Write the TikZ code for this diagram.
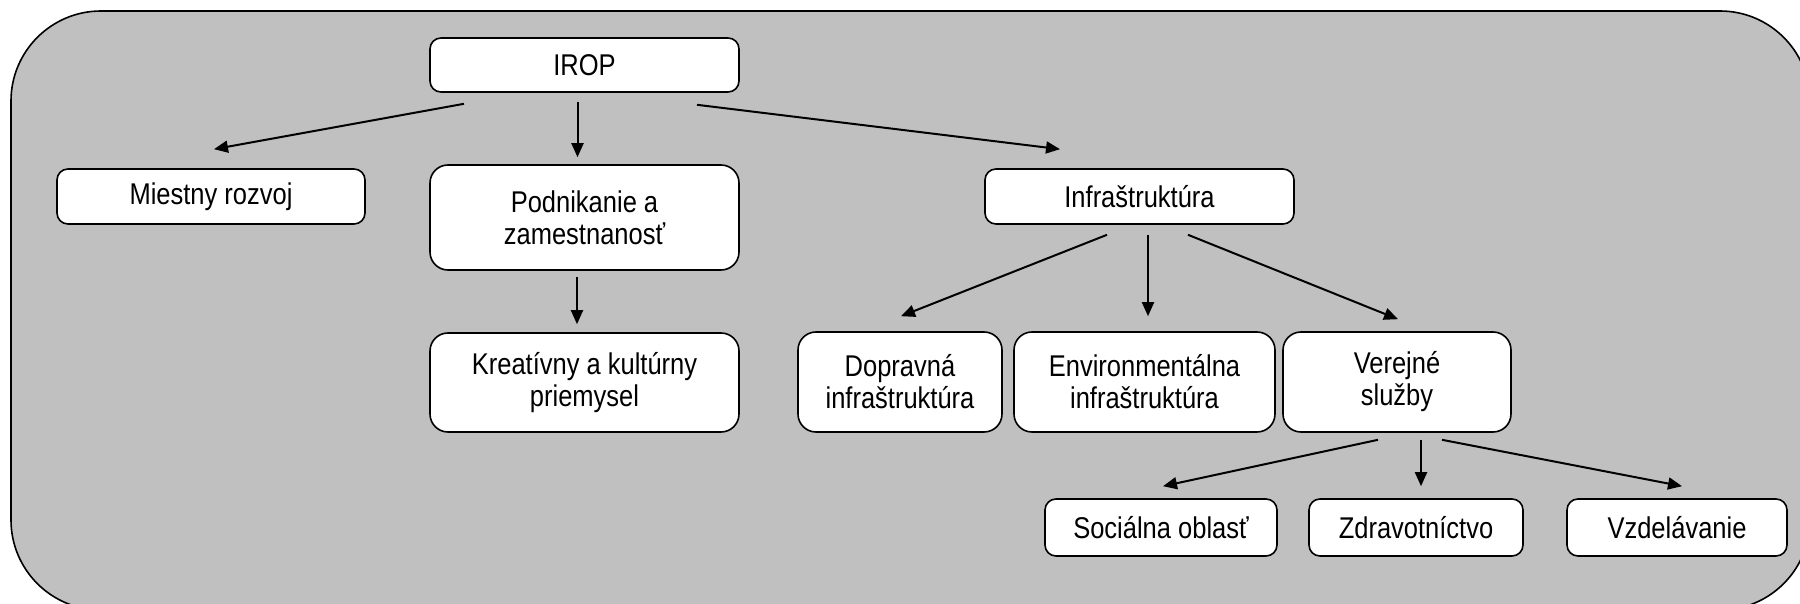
\documentclass[tikz,border=0pt]{standalone}
\usepackage{fontspec}
\setmainfont[FakeStretch=0.85]{Liberation Sans}
\usetikzlibrary{arrows.meta}

\tikzset{
  box/.style={draw, line width=1.6pt, fill=white, rounded corners=11pt, align=center,
    inner sep=0pt, font=\fontsize{30}{32}\selectfont},
  arr/.style={line width=2pt, -{Triangle[length=14pt,width=12pt]}}
}

\begin{document}
\begin{tikzpicture}[x=1pt,y=-1pt]
\useasboundingbox (0,0) rectangle (1800,604);
\fill[white] (0,0) rectangle (1800,604);
\draw[line width=1.6pt, fill={rgb,255:red,192;green,192;blue,192}, rounded corners=90pt] (11,11) rectangle (1810,610);

\node[box, minimum width=309pt, minimum height=54pt] (irop) at (584.5,65) {IROP};
\node[box, minimum width=308pt, minimum height=55pt] (miestny) at (211,196.5) {Miestny rozvoj};
\node[box, minimum width=309pt, minimum height=105pt, rounded corners=18pt] (podnik) at (584.5,217.5) {Podnikanie a\\zamestnanosť};
\node[box, minimum width=309pt, minimum height=55pt] (infra) at (1139.5,196.5) {Infraštruktúra};
\node[box, minimum width=309pt, minimum height=99pt, rounded corners=18pt] (kreat) at (584.5,382.5) {Kreatívny a kultúrny\\priemysel};
\node[box, minimum width=204pt, minimum height=100pt, rounded corners=18pt] (doprav) at (900,382) {Dopravná\\infraštruktúra};
\node[box, minimum width=261pt, minimum height=100pt, rounded corners=18pt] (env) at (1144.5,382) {Environmentálna\\infraštruktúra};
\node[box, minimum width=228pt, minimum height=100pt, rounded corners=18pt] (verej) at (1397,382) {Verejné\\služby};
\node[box, minimum width=232pt, minimum height=57pt] (social) at (1161,527.5) {Sociálna oblasť};
\node[box, minimum width=214pt, minimum height=57pt] (zdrav) at (1416,527.5) {Zdravotníctvo};
\node[box, minimum width=220pt, minimum height=57pt] (vzdel) at (1677,527.5) {Vzdelávanie};

\draw[arr] ([xshift=-120.5pt,yshift=-11pt]irop.south) -- ([xshift=3pt,yshift=19pt]miestny.north);
\draw[arr] ([xshift=-7pt,yshift=-9pt]irop.south) -- ([xshift=-7pt,yshift=7pt]podnik.north);
\draw[arr] ([xshift=112.5pt,yshift=-12pt]irop.south) -- ([xshift=-79.5pt,yshift=19pt]infra.north);
\draw[arr] ([xshift=-7.5pt,yshift=-6pt]podnik.south) -- ([xshift=-7.5pt,yshift=8pt]kreat.north);
\draw[arr] ([xshift=-32.5pt,yshift=-10pt]infra.south) -- ([xshift=1pt,yshift=15pt]doprav.north);
\draw[arr] ([xshift=8.5pt,yshift=-10pt]infra.south) -- ([xshift=3.5pt,yshift=15pt]env.north);
\draw[arr] ([xshift=48.5pt,yshift=-10pt]infra.south) -- ([xshift=1pt,yshift=12pt]verej.north);
\draw[arr] ([xshift=-19pt,yshift=-7pt]verej.south) -- ([xshift=2pt,yshift=12pt]social.north);
\draw[arr] ([xshift=24pt,yshift=-7pt]verej.south) -- ([xshift=5pt,yshift=12pt]zdrav.north);
\draw[arr] ([xshift=45pt,yshift=-7pt]verej.south) -- ([xshift=5pt,yshift=12pt]vzdel.north);
\end{tikzpicture}
\end{document}
